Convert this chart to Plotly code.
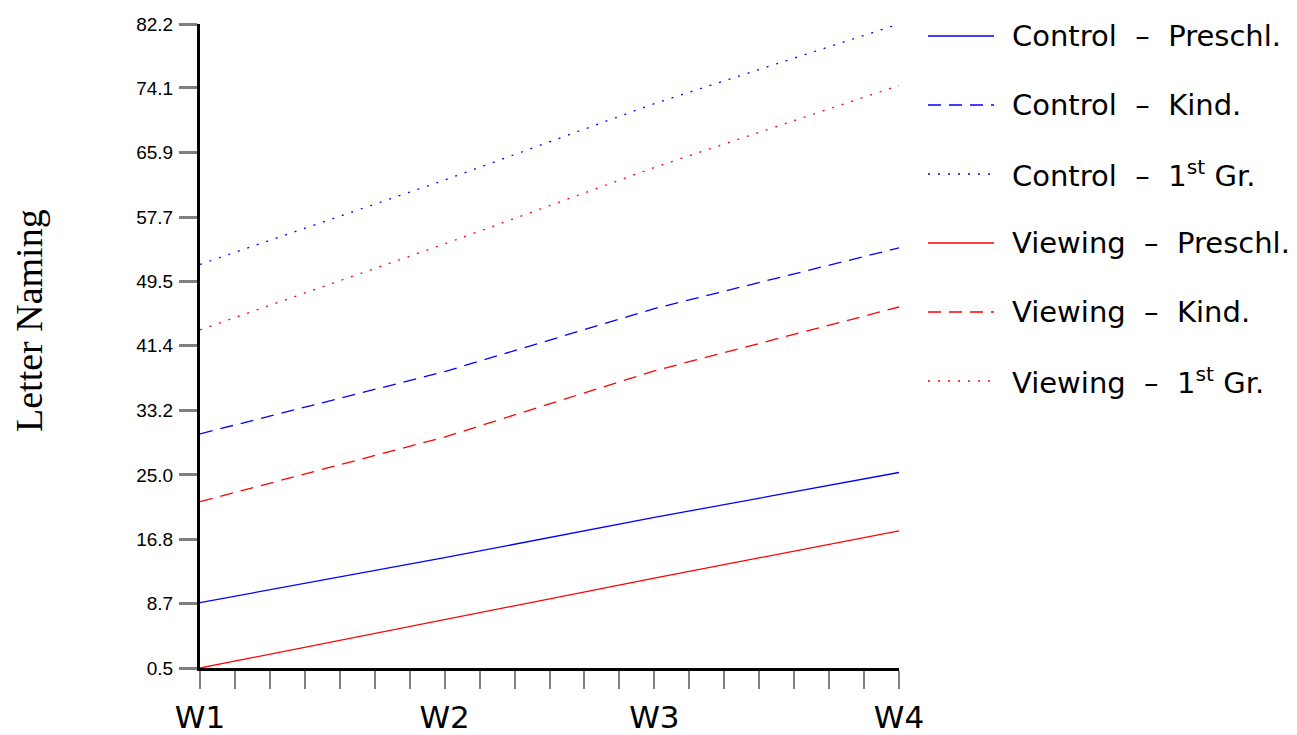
import plotly.graph_objects as go

# ---- data ----
x_pos = [0, 7, 13, 20]
x_labels = ["W1", "W2", "W3", "W4"]
y_ticks = [0.5, 8.7, 16.8, 25.0, 33.2, 41.4, 49.5, 57.7, 65.9, 74.1, 82.2]

SEP = "\u00a0 –\u00a0 "
series_names = [
    "Control" + SEP + "Preschl.",
    "Control" + SEP + "Kind.",
    "Control" + SEP + "1<sup>st</sup> Gr.",
    "Viewing" + SEP + "Preschl.",
    "Viewing" + SEP + "Kind.",
    "Viewing" + SEP + "1<sup>st</sup> Gr.",
]
control_preschl = [8.8, 14.5, 19.6, 25.3]
control_kind = [30.2, 38.1, 46.1, 53.8]
control_1st = [51.7, 62.4, 72.1, 82.2]
viewing_preschl = [0.5, 6.6, 11.9, 17.9]
viewing_kind = [21.6, 29.8, 38.2, 46.3]
viewing_1st = [43.4, 54.3, 64.0, 74.4]

series_values = [control_preschl, control_kind, control_1st,
                 viewing_preschl, viewing_kind, viewing_1st]
colors = ["#0000ff"] * 3 + ["#ff0000"] * 3
dashes = ["solid", "13px,8px", "2px,8px"] * 2

W, H = 1297, 735
L, R, T, B = 200, 398, 24, 67
pw, ph = W - L - R, H - T - B

fig = go.Figure()
for name, vals, c, d in zip(series_names, series_values, colors, dashes):
    fig.add_trace(go.Scatter(x=x_pos, y=vals, mode="lines", name=name,
                             line=dict(color=c, width=1.3, dash=d),
                             showlegend=False))

def px2paper(px, py):
    return (px - L) / pw, (H - B - py) / ph

shapes = []
annotations = []
row_y = [36, 105, 174, 243, 312, 381]
for name, c, d, ry in zip(series_names, colors, dashes, row_y):
    x0, y0 = px2paper(928, ry)
    x1, _ = px2paper(994, ry)
    shapes.append(dict(type="line", xref="paper", yref="paper",
                       x0=x0, x1=x1, y0=y0, y1=y0,
                       line=dict(color=c, width=1.3, dash=d)))
    tx, ty = px2paper(1010, ry)
    annotations.append(dict(x=tx, y=ty, xref="paper", yref="paper",
                            text=name, showarrow=False, xanchor="left",
                            yanchor="middle",
                            font=dict(family="DejaVu Sans", size=29, color="black")))

tx, ty = px2paper(29, 321)
annotations.append(dict(x=tx, y=ty, xref="paper", yref="paper",
                        text="Letter Naming", textangle=-90, showarrow=False,
                        xanchor="center", yanchor="middle",
                        font=dict(family="Liberation Serif", size=38, color="black")))

fig.update_layout(
    width=W, height=H,
    margin=dict(l=L, r=R, t=T, b=B, pad=0, autoexpand=False),
    plot_bgcolor="white", paper_bgcolor="white",
    shapes=shapes, annotations=annotations,
    showlegend=False,
)
fig.update_xaxes(
    range=[0, 20], tickmode="array", tickvals=x_pos, ticktext=x_labels,
    ticks="outside", ticklen=18, tickwidth=1.5, tickcolor="#808080",
    minor=dict(dtick=1, tick0=0, ticks="outside", ticklen=18, tickwidth=1.5,
               tickcolor="#808080", showgrid=False),
    showline=True, linecolor="black", linewidth=3,
    showgrid=False, zeroline=False, automargin=False,
    ticklabelstandoff=2,
    tickfont=dict(family="DejaVu Sans", size=31, color="black"),
)
fig.update_yaxes(
    range=[0.5, 82.2], tickmode="array", tickvals=y_ticks,
    ticktext=[f"{v:.1f}" for v in y_ticks],
    ticks="outside", ticklen=18, tickwidth=2.5, tickcolor="#808080",
    showline=True, linecolor="black", linewidth=3,
    showgrid=False, zeroline=False, automargin=False,
    ticklabelstandoff=2,
    tickfont=dict(family="Liberation Sans", size=19, color="black"),
)

fig.write_html("out.html")
